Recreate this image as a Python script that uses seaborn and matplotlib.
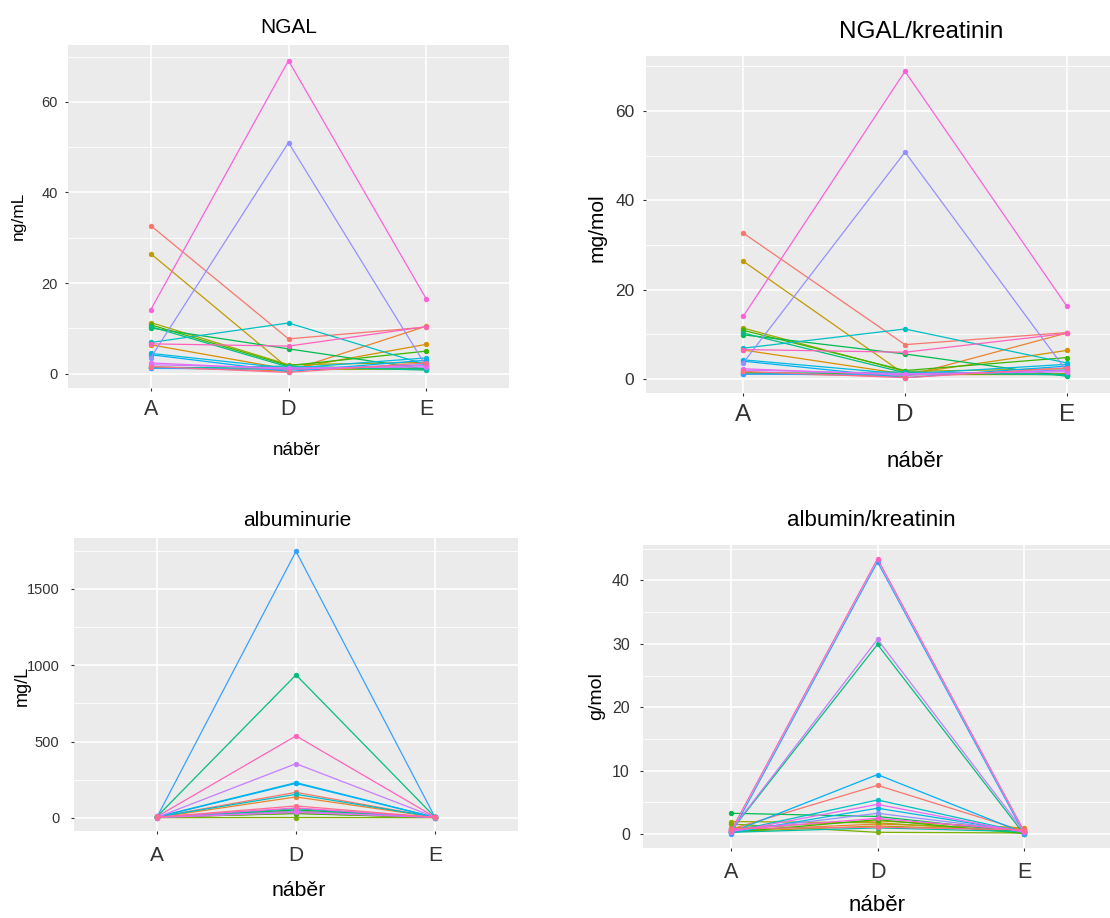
import pandas as pd
import seaborn as sns
import matplotlib.pyplot as plt
from matplotlib.ticker import MultipleLocator


naber = ["A", "D", "E"]
pacienti = [f"P{i:02d}" for i in range(1, 21)]

# ggplot hue_pal()(20)
barvy = ["#F8766D", "#EA8331", "#D89000", "#C09B00", "#A3A500", "#7CAE00", "#39B600",
         "#00BB4E", "#00BF7D", "#00C1A3", "#00BFC4", "#00BAE0", "#00B0F6", "#35A2FF",
         "#9590FF", "#C77CFF", "#E76BF3", "#FA62DB", "#FF62BC", "#FF6C91"]

# NGAL, ng/mL (A, D, E for each patient)
ngal_A = [32.7, 1.4, 6.4, 26.5, 11.3, 1.5, 10.8, 10.1, 10.4, 1.2, 6.9, 4.5, 4.2, 1.2, 3.5, 2.0, 2.4, 14.1, 6.6, 1.6]
ngal_D = [7.7, 0.6, 1.0, 1.2, 2.0, 1.0, 1.8, 5.5, 1.5, 1.7, 11.2, 1.2, 0.5, 1.0, 51.0, 1.3, 1.0, 69.1, 6.1, 0.3]
ngal_E = [10.3, 10.5, 6.5, 1.1, 2.5, 1.0, 5.0, 1.0, 1.2, 0.8, 2.0, 3.5, 3.0, 2.0, 1.6, 1.5, 1.8, 16.5, 10.4, 2.4]

# NGAL/kreatinin, mg/mol
ngal_kr_A = [32.7, 1.3, 6.5, 26.4, 11.4, 1.5, 10.9, 9.9, 10.3, 1.1, 6.9, 4.3, 4.0, 1.1, 3.6, 2.0, 2.3, 14.0, 6.6, 1.7]
ngal_kr_D = [7.7, 0.6, 1.1, 1.0, 1.7, 1.0, 1.9, 5.6, 1.4, 1.6, 11.2, 1.1, 0.3, 0.9, 50.8, 1.2, 0.9, 68.9, 6.0, 0.3]
ngal_kr_E = [10.4, 10.3, 6.4, 1.0, 2.3, 1.2, 4.8, 0.6, 1.0, 0.9, 3.6, 3.3, 2.9, 2.0, 1.7, 1.6, 1.9, 16.3, 10.2, 2.5]

# albuminurie, mg/L
alb_A = [6, 3, 8, 2, 4, 1, 5, 3, 10, 4, 6, 7, 5, 8, 3, 4, 2, 5, 9, 4]
alb_D = [167, 137, 45, 38, 30, 2, 28, 52, 937, 60, 154, 231, 226, 1747, 42, 355, 35, 65, 537, 78]
alb_E = [4, 5, 3, 2, 3, 1, 2, 4, 6, 3, 5, 4, 3, 7, 2, 5, 3, 4, 6, 3]

# albumin/kreatinin, g/mol
alb_kr_A = [0.8, 0.6, 1.0, 0.4, 2.0, 1.6, 0.3, 3.3, 0.5, 0.3, 0.4, 0.2, 0.3, 0.0, 0.5, 0.6, 0.4, 0.7, 0.5, 0.9]
alb_kr_D = [7.7, 1.6, 2.1, 1.3, 1.8, 0.3, 2.3, 2.8, 29.9, 1.0, 5.4, 4.1, 9.4, 42.9, 3.3, 30.7, 4.7, 2.5, 43.4, 1.1]
alb_kr_E = [0.5, 0.9, 1.0, 0.6, 0.4, 0.2, 0.1, 0.3, 0.0, 0.4, 0.3, 0.4, 0.2, 0.1, 0.5, 0.4, 0.3, 0.6, 0.5, 0.7]

W, H = 1110, 918


def long_df(a, d, e):
    df = pd.DataFrame({"pacient": pacienti, "A": a, "D": d, "E": e})
    return df.melt(id_vars="pacient", var_name="naber", value_name="hodnota")


def px_axes(fig, left, top, right, bottom):
    return fig.add_axes([left / W, 1 - bottom / H, (right - left) / W, (bottom - top) / H])


def ftext(fig, x, y, s, **kw):
    fig.text(x / W, 1 - y / H, s, **kw)


sns.set_theme(style="darkgrid")
plt.rcParams["font.family"] = ["Liberation Sans", "DejaVu Sans"]
plt.rcParams["axes.facecolor"] = "#EBEBEB"
plt.rcParams["grid.color"] = "white"

fig = plt.figure(figsize=(W / 100, H / 100), dpi=100)

panels = [
    # data, box (l, t, r, b) in px, major step, texts
    dict(data=long_df(ngal_A, ngal_D, ngal_E), box=(68, 45, 509, 388), step=20,
         title="NGAL", title_xy=(289, 33), title_fs=15,
         ylab="ng/mL", ylab_xy=(18, 216), ylab_fs=12.5,
         xlab_xy=(297, 455), xlab_fs=13.5, xt_fs=15.5, xt_pad=5.4, yt_fs=10.5, yt_pad=5),
    dict(data=long_df(ngal_kr_A, ngal_kr_D, ngal_kr_E), box=(646, 56, 1164, 393), step=20,
         title="NGAL/kreatinin", title_xy=(921, 38), title_fs=17.5,
         ylab="mg/mol", ylab_xy=(597, 228), ylab_fs=15,
         xlab_xy=(915, 467), xlab_fs=16, xt_fs=17.5, xt_pad=5.6, yt_fs=12.5, yt_pad=5.8),
    dict(data=long_df(alb_A, alb_D, alb_E), box=(74, 538, 518, 831), step=500,
         title="albuminurie", title_xy=(297, 526), title_fs=15,
         ylab="mg/L", ylab_xy=(22, 686), ylab_fs=13,
         xlab_xy=(299, 896), xlab_fs=15.3, xt_fs=15, xt_pad=8, yt_fs=10.5, yt_pad=8),
    dict(data=long_df(alb_kr_A, alb_kr_D, alb_kr_E), box=(643, 545, 1112, 848), step=10,
         title="albumin/kreatinin", title_xy=(871, 526), title_fs=16,
         ylab="g/mol", ylab_xy=(597, 696), ylab_fs=14,
         xlab_xy=(877, 911), xlab_fs=16, xt_fs=15.5, xt_pad=7.5, yt_fs=11.5, yt_pad=7),
]

for p in panels:
    ax = px_axes(fig, *p["box"])
    df = p["data"]
    sns.pointplot(data=df, x="naber", y="hodnota", hue="pacient", order=naber,
                  hue_order=pacienti, palette=barvy, errorbar=None, dodge=False,
                  markers="o", markersize=3.2, linewidth=0.9, legend=False, ax=ax)

    # ggplot-like expansion
    lo, hi = df["hodnota"].min(), df["hodnota"].max()
    ax.set_ylim(lo - 0.05 * (hi - lo), hi + 0.05 * (hi - lo))
    ax.set_xlim(-0.6, 2.6)
    ax.yaxis.set_major_locator(MultipleLocator(p["step"]))
    ax.yaxis.set_minor_locator(MultipleLocator(p["step"] / 2))

    ax.grid(True, which="major", color="white", linewidth=1.2)
    ax.grid(True, which="minor", axis="y", color="white", linewidth=0.6)
    ax.xaxis.grid(True, which="major", color="white", linewidth=1.2)
    ax.set_axisbelow(True)
    for s in ax.spines.values():
        s.set_visible(False)

    ax.tick_params(axis="both", which="major", length=2.5, width=0.8, color="#333333",
                   labelcolor="#333333", bottom=True, left=True)
    ax.tick_params(axis="x", labelsize=p["xt_fs"], pad=p["xt_pad"])
    ax.tick_params(axis="y", labelsize=p["yt_fs"], pad=p["yt_pad"])
    ax.tick_params(which="minor", length=0)
    ax.set_xlabel("")
    ax.set_ylabel("")

    ftext(fig, *p["title_xy"], p["title"], ha="center", va="baseline",
          fontsize=p["title_fs"], color="black")
    ftext(fig, *p["xlab_xy"], "náběr", ha="center", va="baseline",
          fontsize=p["xlab_fs"], color="black")
    ftext(fig, *p["ylab_xy"], p["ylab"], ha="center", va="center", rotation=90,
          fontsize=p["ylab_fs"], color="black")

fig.savefig("out.png", dpi=100)
